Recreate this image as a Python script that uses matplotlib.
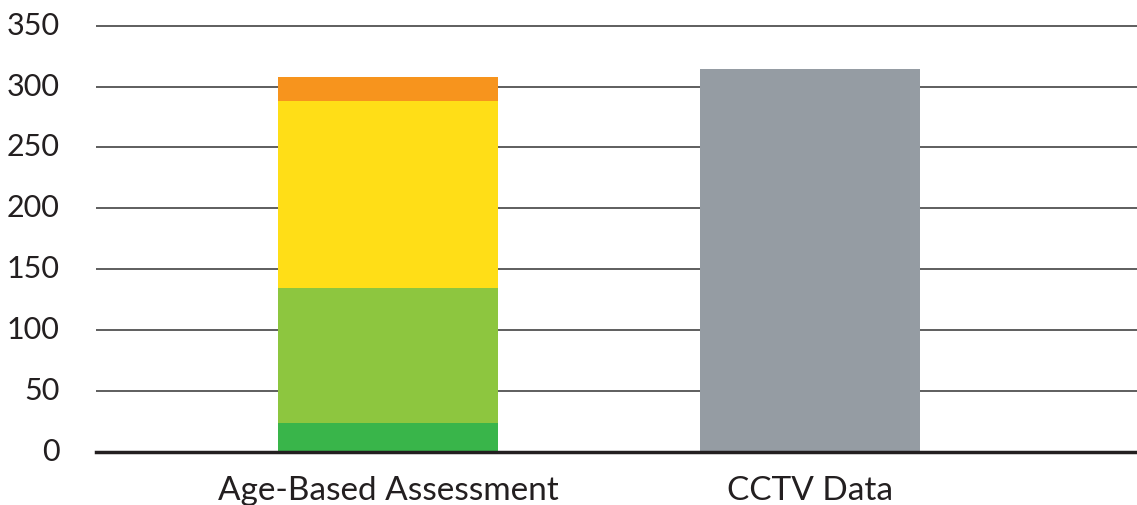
import matplotlib.pyplot as plt

categories = ["Age-Based Assessment", "CCTV Data"]
# stacked parts of the age-based bar, bottom to top
seg_dark_green = [24, 0]
seg_light_green = [111, 0]
seg_yellow = [153, 0]
seg_orange = [20, 0]
cctv = [0, 314]

seg_colors = ["#39b54a", "#8dc63f", "#ffde17", "#f7941d"]
cctv_color = "#959ca3"

plt.rcParams['font.family'] = ['Lato', 'DejaVu Sans']

fig = plt.figure(figsize=(11.37, 5.05), dpi=100)
ax = fig.add_axes([0.0844, 0.105, 0.9156, 0.8455])

x = [0, 1]
width = 0.52
bottom = [0, 0]
for vals, c in zip([seg_dark_green, seg_light_green, seg_yellow, seg_orange], seg_colors):
    ax.bar(x[:1], vals[:1], width, bottom=bottom[:1], color=c, zorder=3)
    bottom = [b + v for b, v in zip(bottom, vals)]
ax.bar(x[1:], cctv[1:], width, color=cctv_color, zorder=3)

ax.set_xlim(-0.692, 1.775)
ax.set_ylim(0, 350.5)
ax.set_yticks(range(0, 351, 50))
ax.set_xticks(x)
ax.set_xticklabels(categories)
ax.yaxis.grid(True, color="#333333", linewidth=1.1, zorder=1)
ax.set_axisbelow(True)

for s in ["top", "right", "left"]:
    ax.spines[s].set_visible(False)
ax.spines["bottom"].set_linewidth(2.5)
ax.spines["bottom"].set_color("#231f20")
ax.spines["bottom"].set_zorder(4)

ax.tick_params(axis="y", length=0, pad=26, labelsize=22, labelcolor="#231f20")
ax.tick_params(axis="x", length=0, pad=17, labelsize=24, labelcolor="#231f20")
for lbl in ax.get_yticklabels():
    lbl.set_va("center")

fig.savefig("out.png", dpi=100)
